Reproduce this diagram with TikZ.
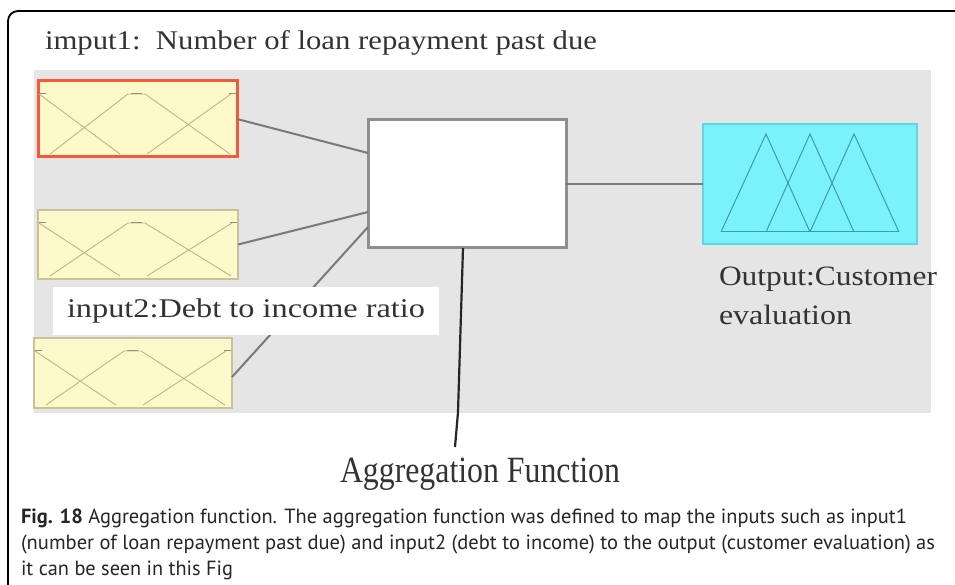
\documentclass[tikz,border=0pt]{standalone}
\usepackage{fontspec}
\setmainfont{Liberation Serif}
\newfontfamily\capfont{PT Sans}
\usetikzlibrary{calc}
\definecolor{bggray}{HTML}{E5E5E5}
\definecolor{mfyellow}{HTML}{FDF9CA}
\definecolor{selred}{HTML}{F25A3A}
\definecolor{inborder}{HTML}{C9C19A}
\definecolor{mfcol}{HTML}{BDB48C}
\definecolor{aggborder}{HTML}{8E8E8E}
\definecolor{linkgray}{HTML}{7A7A7A}
\definecolor{outcyan}{HTML}{7AF2FA}
\definecolor{outborder}{HTML}{5ED6DE}
\definecolor{outmf}{HTML}{3C9CA8}
\definecolor{txtgray}{HTML}{333333}
\tikzset{
  inbox/.style={draw=inborder, line width=1.5pt, fill=mfyellow, inner sep=0pt, outer sep=0pt, anchor=north west},
  selbox/.style={inbox, draw=selred, line width=3pt},
  aggbox/.style={draw=aggborder, line width=3pt, fill=white, inner sep=0pt, outer sep=0pt, anchor=north west},
  outbox/.style={draw=outborder, line width=1.5pt, fill=outcyan, inner sep=0pt, outer sep=0pt, anchor=north west},
  mfline/.style={draw=mfcol, line width=0.9pt},
  outmfline/.style={draw=outmf, line width=1pt, line join=miter},
  link/.style={draw=linkgray, line width=2pt},
  serif/.style={inner sep=0pt, outer sep=0pt, text=txtgray},
  capt/.style={inner sep=0pt, outer sep=0pt, text=black!85, font=\capfont\fontsize{20.5}{26}\selectfont, anchor=base west},
}
\newcommand\mfdraw[3]{%
  \begin{scope}[shift={(#1.north west)}]
    \draw[mfline] (1,13) -- (82,{#3-3});
    \draw[mfline] (12,{#3-3}) -- (90,13) -- (107,13) -- ({#2-7},{#3-3});
    \draw[mfline] (109,{#3-3}) -- ({#2-6},13);
    \draw[mfline,draw=mfcol!80!black] (1,12) -- (8,12) (93,12) -- (104,12) ({#2-8},12) -- ({#2-1},12);
  \end{scope}}
\begin{document}
\begin{tikzpicture}[x=1pt,y=-1pt]
\useasboundingbox[fill=white] (0,0) rectangle (955,585);
% outer frame
\draw[line width=1.8pt, rounded corners=10pt] (8,586) -- (8,11) -- (956,11);
% title
\node[serif, anchor=base west, font=\fontsize{27}{30}\selectfont] (title) at (45,50)
  {\resizebox{552pt}{\height}{imput1:\ \ Number of loan repayment past due}};
% gray panel
\fill[bggray] (34,70) rectangle (931,413);
% input boxes
\node[selbox, minimum width=199pt, minimum height=76pt] (in1) at (38,81) {};
\node[inbox, minimum width=200pt, minimum height=69pt] (in2) at (38,210) {};
\node[inbox, minimum width=198pt, minimum height=70pt] (in3) at (34,338) {};
\mfdraw{in1}{199}{76}
\mfdraw{in2}{200}{69}
\mfdraw{in3}{198}{70}
% aggregation box
\node[aggbox, minimum width=198pt, minimum height=128pt] (agg) at (368,120) {};
% output box
\node[outbox, minimum width=214pt, minimum height=120pt] (out) at (703,124) {};
\begin{scope}[shift={(out.north west)}]
  \draw[outmfline] (18,108) -- (63,10) -- (107,108);
  \draw[outmfline] (63,108) -- (107,10) -- (151,108);
  \draw[outmfline] (107,108) -- (151,10) -- (196,108);
  \draw[outmfline] (18,108) -- (196,108);
\end{scope}
% connectors
\draw[link] (in1.east) -- ([yshift=31pt]agg.west);
\draw[link] (in2.east) -- ([yshift=-28pt]agg.west);
\draw[link] ([yshift=-4pt]in3.east) -- ([yshift=-43pt]agg.west);
\draw[link] (agg.east) -- (out.west);
% input2 label
\node[fill=white, inner sep=0pt, outer sep=0pt, minimum width=386pt, minimum height=48pt, anchor=north west, text=txtgray,
  font=\fontsize{27}{30}\selectfont] (lbl2) at (53,287)
  {\resizebox{358pt}{\height}{input2:Debt to income ratio}};
% output label
\node[serif, anchor=base west, font=\fontsize{28}{30}\selectfont] (outl1) at (719,285)
  {\resizebox{218pt}{\height}{Output:Customer}};
\node[serif, anchor=base west, font=\fontsize{28}{30}\selectfont] (outl2) at (719,324)
  {\resizebox{133pt}{\height}{evaluation}};
% aggregation label
\node[serif, anchor=base west, font=\fontsize{37}{40}\selectfont] (aggl) at (340,482)
  {\resizebox{280pt}{\height}{Aggregation Function}};
\coordinate (aggtip) at (455,447);
\draw[line width=2.2pt, draw=black!85] ([xshift=-4pt]agg.south) -- (458,412) -- (aggtip);
% caption
\node[capt] (cap1) at (21,523)
  {\resizebox{886pt}{\height}{\textbf{Fig. 18} Aggregation function. The aggregation function was defined to map the inputs such as input1}};
\node[capt] (cap2) at (21,549)
  {\resizebox{914pt}{\height}{(number of loan repayment past due) and input2 (debt to income) to the output (customer evaluation) as}};
\node[capt] (cap3) at (21,575)
  {\resizebox{212pt}{\height}{it can be seen in this Fig}};
\end{tikzpicture}
\end{document}
